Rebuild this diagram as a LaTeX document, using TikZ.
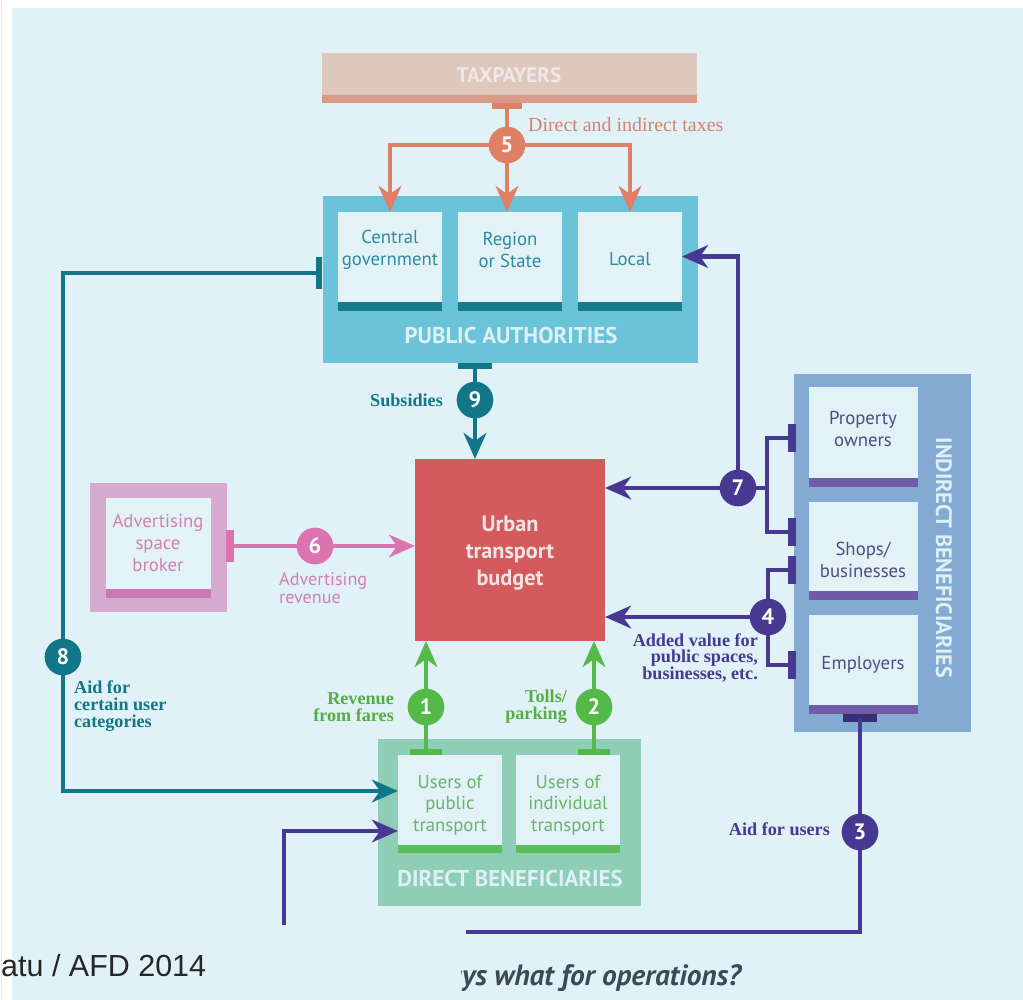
\documentclass[tikz,border=0pt]{standalone}
\usepackage{fontspec}
\setmainfont{Liberation Serif}
\newfontfamily\dinfont{PT Sans}
\newfontfamily\credfont{Liberation Sans}
\usetikzlibrary{arrows.meta,fit,calc}

\definecolor{bgblue}{HTML}{E0F2F7}
\definecolor{edgeline}{HTML}{F1E6F0}
\definecolor{taxlight}{HTML}{DEC7BD}
\definecolor{taxband}{HTML}{D99A89}
\definecolor{taxtext}{HTML}{F0E8E5}
\definecolor{salmon}{HTML}{DE7F66}
\definecolor{salmontext}{HTML}{D9806A}
\definecolor{pablue}{HTML}{6BC3DA}
\definecolor{paband}{HTML}{157C90}
\definecolor{patext}{HTML}{2B8CA2}
\definecolor{pltext}{HTML}{DCF0F5}
\definecolor{innerfill}{HTML}{E3F2F6}
\definecolor{tealline}{HTML}{12768B}
\definecolor{budred}{HTML}{D45A5C}
\definecolor{budtext}{HTML}{F1E4E4}
\definecolor{advbox}{HTML}{D5ABD0}
\definecolor{advband}{HTML}{C77BB5}
\definecolor{advtext}{HTML}{D47FB4}
\definecolor{pinkline}{HTML}{DA73AE}
\definecolor{ibblue}{HTML}{84A9D3}
\definecolor{ibband}{HTML}{6E5CA8}
\definecolor{ibtext}{HTML}{4F4B87}
\definecolor{purpleline}{HTML}{473992}
\definecolor{dbgreen}{HTML}{8FCEB6}
\definecolor{dbband}{HTML}{5BBD5C}
\definecolor{dbtext}{HTML}{66B46A}
\definecolor{greenline}{HTML}{54B947}
\definecolor{greenlabel}{HTML}{55AE45}
\definecolor{credgray}{HTML}{262626}
\definecolor{capgray}{HTML}{3D4A56}

\newcommand\dgInner{\dinfont\fontsize{16}{18.5}\selectfont}
\newcommand\dgTitle{\dinfont\bfseries\fontsize{19.5}{19.5}\selectfont}
\newcommand\dgBudget{\dinfont\bfseries\fontsize{19}{23}\selectfont}
\newcommand\dgLabel{\bfseries\fontsize{15.5}{14.2}\selectfont}
\newcommand\dgNum{\dinfont\bfseries\fontsize{19}{19}\selectfont}

\begin{document}
\begin{tikzpicture}[x=0.03cm,y=-0.03cm,
  block/.style={inner sep=0pt,outer sep=0pt,draw=none},
  numdot/.style={circle,minimum size=1.1cm,inner sep=0pt,font=\dgNum,text=white},
  flow/.style={line width=3.8pt,line cap=butt},
  tabbar/.style={line width=5pt,line cap=butt},
  >={Stealth[length=0.78cm,width=0.68cm,inset=0.24cm]},
  boxtitle/.style={font=\dgTitle},
  inner/.style={font=\dgInner,align=center},
  lbl/.style={font=\dgLabel}]
\useasboundingbox (0,0) rectangle (1023,1000);
\fill[white] (0,0) rectangle (1023,1000);
\draw[edgeline,line width=1.5pt] (1.5,0) -- (1.5,1000);
\fill[bgblue] (12,8) rectangle (1023,1000);

% ---------- taxpayers ----------
\node[block,fill=taxlight,fit={(322,53) (697,103)}] (tax) {};
\fill[taxband] (tax.south west) rectangle ($(tax.south east)+(0,-8)$);
\node[text=taxtext,font=\dinfont\bfseries\fontsize{18}{18}\selectfont] at (509,75) {TAXPAYERS};

% ---------- public authorities ----------
\node[block,fill=pablue,fit={(323,196) (698,363)}] (pa) {};
\node[block,fill=innerfill,fit={(338,212) (442,311)}] (cg) {};
\node[block,fill=innerfill,fit={(458,212) (562,311)}] (rs) {};
\node[block,fill=innerfill,fit={(578,212) (682,311)}] (loc) {};
\foreach \b in {cg,rs,loc}
  \fill[paband] (\b.south west) rectangle ($(\b.south east)+(0,-9)$);
\node[inner,text=patext] at (390,250) {Central\\government};
\node[inner,text=patext] at (510,250) {Region\\or State};
\node[inner,text=patext] at (630,259) {Local};
\node[boxtitle,text=pltext] at (511,335) {PUBLIC AUTHORITIES};

% ---------- budget ----------
\node[block,fill=budred,fit={(415,459) (605,641)}] (bud) {};
\node[font=\dgBudget,text=budtext,align=center] at (510,553) {Urban\\transport\\budget};

% ---------- advertising ----------
\node[block,fill=advbox,fit={(90,483) (227,612)}] (adv) {};
\node[block,fill=innerfill,fit={(106,498) (211,598)}] (advin) {};
\fill[advband] (advin.south west) rectangle ($(advin.south east)+(0,-9)$);
\node[inner,text=advtext] at (158,543) {Advertising\\space\\broker};

% ---------- indirect beneficiaries ----------
\node[block,fill=ibblue,fit={(794,374) (971,732)}] (ib) {};
\node[block,fill=innerfill,fit={(809,387) (918,487)}] (po) {};
\node[block,fill=innerfill,fit={(809,502) (918,600)}] (sb) {};
\node[block,fill=innerfill,fit={(809,615) (918,714)}] (em) {};
\foreach \b in {po,sb,em}
  \fill[ibband] (\b.south west) rectangle ($(\b.south east)+(0,-9)$);
\node[inner,text=ibtext] at (863,429) {Property\\owners};
\node[inner,text=ibtext] at (863,560) {Shops/\\businesses};
\node[inner,text=ibtext] at (863,665) {Employers};
\node[text=pltext,rotate=-90,font=\dinfont\bfseries\fontsize{19}{19}\selectfont] at (944,558) {INDIRECT BENEFICIARIES};

% ---------- direct beneficiaries ----------
\node[block,fill=dbgreen,fit={(378,739) (641,906)}] (db) {};
\node[block,fill=innerfill,fit={(398,755) (502,853)}] (up) {};
\node[block,fill=innerfill,fit={(516,755) (620,853)}] (ui) {};
\foreach \b in {up,ui}
  \fill[dbband] (\b.south west) rectangle ($(\b.south east)+(0,-8)$);
\node[inner,text=dbtext] at (450,805) {Users of\\public\\transport};
\node[inner,text=dbtext] at (568,805) {Users of\\individual\\transport};
\node[boxtitle,text=pltext] at (510,878) {DIRECT BENEFICIARIES};

% ---------- anchor points of the flows ----------
\coordinate (t5) at (507,106);
\coordinate (t9) at (475,366);
\coordinate (t8) at (319,273);
\coordinate (t6) at (230,546);
\coordinate (bpo) at (792,438);
\coordinate (bsb1) at (792,532);
\coordinate (bsb2) at (792,570);
\coordinate (bem) at (792,665);
\coordinate (t3) at (860,718);
\coordinate (e3) at (466,932);
\coordinate (s3) at (284,925);
\coordinate (t1) at (426,752);
\coordinate (t2) at (594,752);

% ---------- circle positions ----------
\coordinate (c5) at (507,145);
\coordinate (c9) at (475,400);
\coordinate (c8) at (63,657);
\coordinate (c6) at (315,546);
\coordinate (c7) at (738,488);
\coordinate (c4) at (768,617);
\coordinate (c3) at (860,832);
\coordinate (c1) at (426,707);
\coordinate (c2) at (594,707);

% 5: taxes
\draw[flow,salmon] (t5) -- (c5);
\draw[tabbar,salmon] ($(t5)+(-15,0)$) -- ($(t5)+(15,0)$);
\draw[flow,salmon,->] (c5) -| (cg.north);
\draw[flow,salmon,->] (c5) -- (c5 |- rs.north);
\draw[flow,salmon,->] (c5) -| (loc.north);

% 9: subsidies
\draw[tabbar,tealline] ($(t9)+(-17,0)$) -- ($(t9)+(17,0)$);
\draw[flow,tealline] (t9) -- (c9);
\draw[flow,tealline,->] (c9) -- (c9 |- bud.north);

% 8: aid for certain user categories
\draw[tabbar,tealline] ($(t8)+(0,-16)$) -- ($(t8)+(0,16)$);
\draw[flow,tealline] (t8) -| (c8);
\draw[flow,tealline,->] (c8) |- ($(up.west)+(0,-13)$);

% 6: advertising revenue
\draw[tabbar,pinkline,line width=6pt] ($(t6)+(0,-16)$) -- ($(t6)+(0,16)$);
\draw[flow,pinkline,->] (t6) -- (t6 -| bud.west);

% 7: property owners and shops to budget and local authorities
\foreach \b in {bpo,bsb1,bsb2,bem}
  \draw[tabbar,purpleline,line width=6pt] ($(\b)+(0,-14)$) -- ($(\b)+(0,14)$);
\draw[flow,purpleline] (bpo) -| ($(c7)+(29,0)$) |- (bsb1);
\draw[flow,purpleline] ($(c7)+(29,0)$) -- (c7);
\draw[flow,purpleline,->] (c7) -- (c7 -| bud.east);
\draw[flow,purpleline,->] (c7) |- ($(loc.east)+(0,-5)$);

% 4: added value
\draw[flow,purpleline] (bsb2) -| (c4) |- (bem);
\draw[flow,purpleline,->] (c4) -- (c4 -| bud.east);

% 3: aid for users
\draw[tabbar,line width=6pt,draw=purpleline!80!black] ($(t3)+(-17,0)$) -- ($(t3)+(17,0)$);
\draw[flow,purpleline] (t3) -- (c3);
\draw[flow,purpleline] (c3) |- (e3);
\draw[flow,purpleline,->] (s3) |- ($(up.west)+(0,27)$);

% 1 and 2: fares, tolls and parking
\draw[tabbar,greenline] ($(t1)+(-16,0)$) -- ($(t1)+(16,0)$);
\draw[tabbar,greenline] ($(t2)+(-16,0)$) -- ($(t2)+(16,0)$);
\draw[flow,greenline,->] (t1) -- (t1 |- bud.south);
\draw[flow,greenline,->] (t2) -- (t2 |- bud.south);

% numbered circles on top of the flows
\node[numdot,fill=salmon] (n5) at (c5) {5};
\node[numdot,fill=tealline] (n9) at (c9) {9};
\node[numdot,fill=tealline] (n8) at (c8) {8};
\node[numdot,fill=pinkline] (n6) at (c6) {6};
\node[numdot,fill=purpleline] (n7) at (c7) {7};
\node[numdot,fill=purpleline] (n4) at (c4) {4};
\node[numdot,fill=purpleline] (n3) at (c3) {3};
\node[numdot,fill=greenline] (n1) at (c1) {1};
\node[numdot,fill=greenline] (n2) at (c2) {2};

% ---------- labels ----------
\node[anchor=west,text=salmontext,font=\fontsize{17}{17}\selectfont] at (524,125) {Direct and indirect taxes};
\node[lbl,anchor=east,text=tealline] at (447,400) {Subsidies};
\node[lbl,anchor=west,align=left,text=tealline] at (70,706) {Aid for\\certain user\\categories};
\node[anchor=west,align=left,text=advtext,font=\dinfont\fontsize{15.5}{15}\selectfont] at (275,588) {Advertising\\revenue};
\node[lbl,anchor=east,align=right,text=greenlabel] at (398,707) {Revenue\\from fares};
\node[lbl,anchor=east,align=right,text=greenlabel] at (571,707) {Tolls/\\parking};
\node[lbl,anchor=east,align=right,text=purpleline] at (762,658) {Added value for\\public spaces,\\businesses, etc.};
\node[lbl,anchor=east,text=purpleline] at (834,829) {Aid for users};

% ---------- page text ----------
\node[anchor=base west,inner sep=0pt,text=credgray,font=\credfont\fontsize{26}{26}\selectfont] at (1,976) {atu / AFD 2014};
\begin{scope}
  \clip (461,940) rectangle (800,1000);
  \node[anchor=base east,inner sep=0pt,text=capgray,font=\dinfont\bfseries\itshape\fontsize{25}{25}\selectfont] at (741,985) {ays what for operations?};
\end{scope}
\end{tikzpicture}
\end{document}
